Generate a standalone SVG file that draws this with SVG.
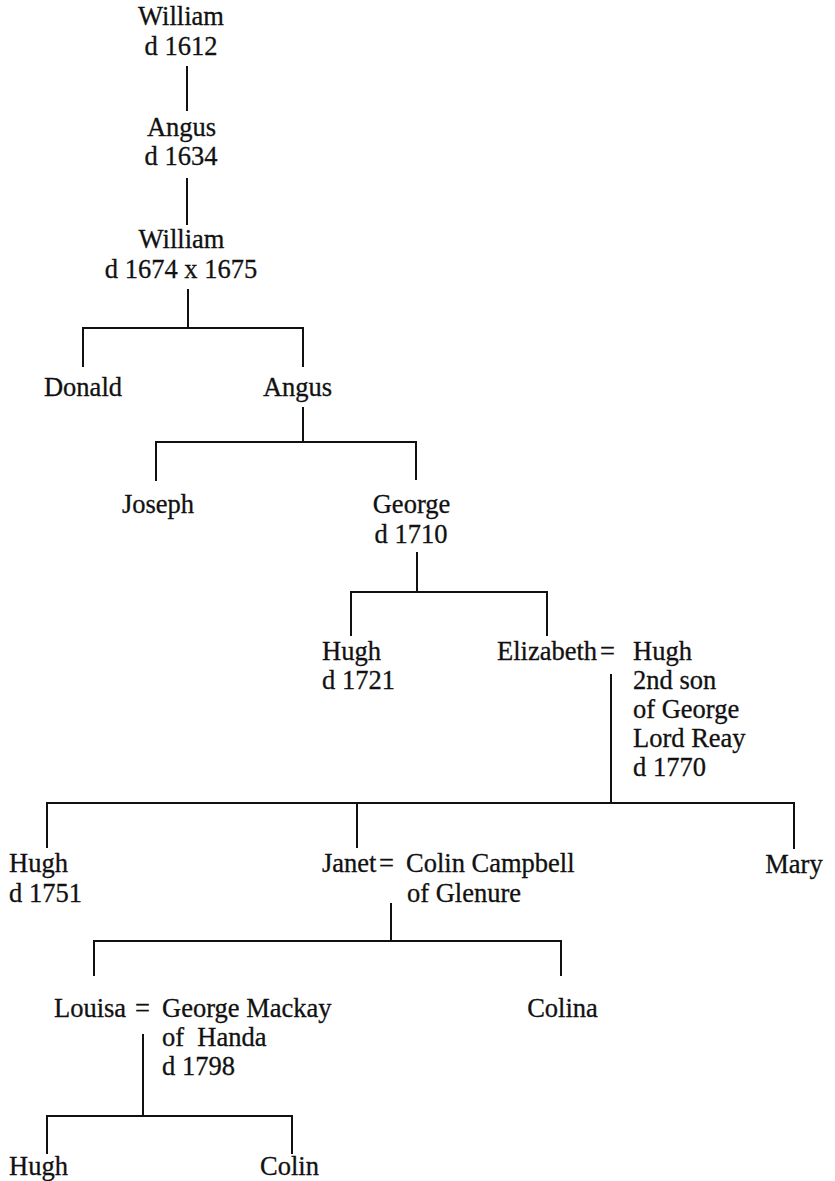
<svg xmlns="http://www.w3.org/2000/svg" width="835" height="1181" viewBox="0 0 835 1181">
<style>
  text { font-family: "Liberation Serif", "Times New Roman", serif; font-size: 26.5px; fill: #111; stroke: #111; stroke-width: 0.3; }
  .c { text-anchor: middle; }
  .conn path { fill: none; stroke: #111; stroke-width: 2; stroke-linecap: square; }
</style>
<rect width="835" height="1181" fill="#fff"/>
<g class="conn" id="connectors">
  <path d="M187 67 V110"/>
  <path d="M187 179 V224"/>
  <path d="M188 290 V328 M83 328 H303 M83 328 V366 M303 328 V366"/>
  <path d="M303 408 V442 M156 442 H416 M156 442 V480 M416 442 V479"/>
  <path d="M417 553 V592 M351 592 H547 M351 592 V635 M547 592 V635"/>
  <path d="M611 675 V803 M47 803 H794 M47 803 V847 M357 803 V847 M794 803 V848"/>
  <path d="M391 904 V941 M94 941 H561 M94 941 V975 M561 941 V975"/>
  <path d="M143 1035 V1116 M47 1116 H292 M47 1116 V1153 M292 1116 V1153"/>
</g>
<g id="william1"><text class="c" x="181" y="25">William</text><text class="c" x="181" y="55">d 1612</text></g>
<g id="angus1"><text class="c" x="181.5" y="136">Angus</text><text class="c" x="181" y="165">d 1634</text></g>
<g id="william2"><text class="c" x="181.5" y="248">William</text><text class="c" x="181" y="278">d 1674 x 1675</text></g>
<g id="donald"><text class="c" x="83" y="396">Donald</text></g>
<g id="angus2"><text class="c" x="297.5" y="396">Angus</text></g>
<g id="joseph"><text class="c" x="158" y="513">Joseph</text></g>
<g id="george"><text class="c" x="411.5" y="513">George</text><text class="c" x="411" y="543">d 1710</text></g>
<g id="hugh1721"><text x="322" y="660">Hugh</text><text x="322" y="689">d 1721</text></g>
<g id="elizabeth-hugh">
  <text x="497" y="660">Elizabeth</text>
  <text x="600" y="660">=</text>
  <text x="633" y="660">Hugh</text>
  <text x="633" y="689">2nd son</text>
  <text x="633" y="718">of George</text>
  <text x="633" y="747">Lord Reay</text>
  <text x="633" y="776">d 1770</text>
</g>
<g id="hugh1751"><text x="9" y="872">Hugh</text><text x="9" y="902">d 1751</text></g>
<g id="janet-colin">
  <text x="322" y="872">Janet</text>
  <text x="379" y="872">=</text>
  <text x="406" y="872">Colin Campbell</text>
  <text x="407" y="902">of Glenure</text>
</g>
<g id="mary"><text class="c" x="794" y="873">Mary</text></g>
<g id="louisa-george">
  <text x="54" y="1017">Louisa</text>
  <text x="135" y="1017">=</text>
  <text x="162" y="1017">George Mackay</text>
  <text x="162" y="1046" xml:space="preserve">of  Handa</text>
  <text x="162" y="1075">d 1798</text>
</g>
<g id="colina"><text class="c" x="562.5" y="1017">Colina</text></g>
<g id="hugh-bottom"><text x="9" y="1175">Hugh</text></g>
<g id="colin"><text class="c" x="289.5" y="1175">Colin</text></g>
</svg>
